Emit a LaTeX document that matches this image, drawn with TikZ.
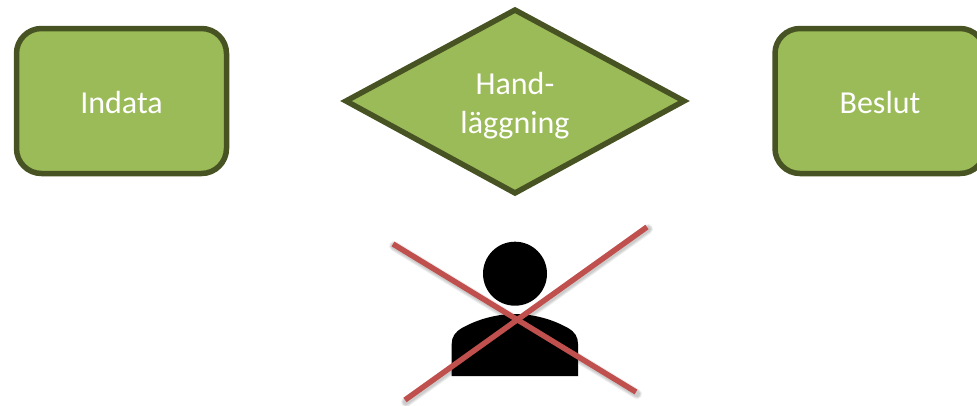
\documentclass[tikz,border=0pt]{standalone}
\usepackage{fontspec}
\setmainfont{Carlito}
\usetikzlibrary{shapes.geometric}
\definecolor{leaf}{HTML}{9BBB59}
\definecolor{leafdark}{HTML}{475323}
\definecolor{crossred}{HTML}{C0504D}
\tikzset{
  x=1pt,y=-1pt,
  flowbox/.style={draw=leafdark,line width=5.5pt,fill=leaf,rounded corners=25pt,minimum width=210pt,minimum height=145pt,inner sep=0pt,text=white,font=\fontsize{32}{39}\selectfont,align=center},
  flowdiamond/.style={draw=leafdark,line width=5.5pt,fill=leaf,line join=miter},
  flowtext/.style={text=white,font=\fontsize{32}{39}\selectfont,align=center,inner sep=0pt},
  crossline/.style={draw=crossred,line width=5.5pt},
  crossshade/.style={draw=black,opacity=0.07,line cap=round},
}
\begin{document}
\begin{tikzpicture}
\useasboundingbox (0,0) rectangle (977,405);
\clip (0,0) rectangle (977,405);
\node[flowbox] (indata) at (121.5,101) {\raisebox{-12pt}[0pt][0pt]{Indata}};
\node[flowbox] (beslut) at (880,101) {\raisebox{-12pt}[0pt][0pt]{Beslut}};
\path[flowdiamond] (346,101) -- (515,10) -- (684,101) -- (515,193) -- cycle;
\node[flowtext] (hand) at (515,106) {Hand-\\läggning};
% person
\fill[black] (515,273.7) circle (32);
\fill[black] (451.7,376) -- (451.7,344) .. controls (451.7,337) and (455,332) .. (462,328)
  .. controls (478,319) and (497,314) .. (515,314)
  .. controls (533,314) and (552,319) .. (568,328)
  .. controls (575,332) and (578,337) .. (578,344) -- (578,376) -- cycle;
% cross
\coordinate (a1) at (393,244);
\coordinate (a2) at (636,392);
\coordinate (b1) at (647,227);
\coordinate (b2) at (405,400);
\foreach \w in {10,8,6}{
  \draw[crossshade,line width=\w pt] ([shift={(1,2)}]a1) -- ([shift={(1,2)}]a2);
  \draw[crossshade,line width=\w pt] ([shift={(1,2)}]b1) -- ([shift={(1,2)}]b2);
}
\draw[crossline] (a1) -- (a2);
\draw[crossline] (b1) -- (b2);
\end{tikzpicture}
\end{document}
